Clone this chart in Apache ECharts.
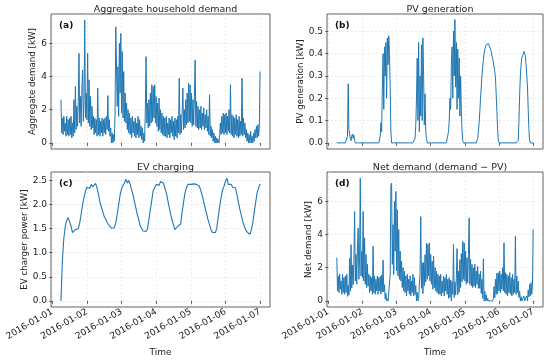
<!DOCTYPE html>
<html><head><meta charset="utf-8">
<script src="https://cdn.jsdelivr.net/npm/echarts@6/dist/echarts.min.js"></script>
<style>html,body{margin:0;padding:0;background:#fff}#c{width:550px;height:360px}</style>
</head><body><div id="c"></div>
<script>
// time axis in days since 2016-01-01 00:00
const xTickValues = [0, 1, 2, 3, 4, 5, 6];
const xTickLabels = ['2016-01-01','2016-01-02','2016-01-03','2016-01-04','2016-01-05','2016-01-06','2016-01-07'];
const seriesStartDay = 0.25;     // 2016-01-01 06:00
const halfHourStep = 1 / 48;
const hourStep = 1 / 24;

const titles = ['Aggregate household demand', 'PV generation', 'EV charging', 'Net demand (demand \u2212 PV)'];
const panelLabels = ['(a)', '(b)', '(c)', '(d)'];
const yNames = ['Aggregate demand [kW]', 'PV generation [kW]', 'EV charger power [kW]', 'Net demand [kW]'];
const yTicksDemand = [0, 2, 4, 6];
const yTicksPV = [0, 0.1, 0.2, 0.3, 0.4, 0.5];
const yTicksEV = [0, 0.5, 1.0, 1.5, 2.0, 2.5];

// half-hourly aggregate demand [kW]
const demand = [
 2.6,0.6,1.5,0.5,1.6,0.7,1.2,0.4,1.6,0.5,1.4,0.4,
 1.5,0.5,1.6,0.3,1.2,0.4,2.6,0.6,3.4,0.8,2.2,1.0,
 2.5,5.4,1.2,2.8,1.0,3.2,4.4,1.3,2.6,7.4,1.5,3.0,
 1.4,5.4,1.2,3.8,1.0,2.8,0.8,2.2,0.9,1.6,0.5,1.5,
 0.6,1.4,0.4,3.3,0.5,1.5,0.4,1.3,0.6,1.5,0.4,1.4,
 0.6,1.5,0.5,1.6,0.8,2.85,0.7,1.4,0.4,0.9,0.0,0.6,
 0.0,0.5,0.1,1.8,7.0,7.1,2.2,4.6,1.6,6.0,3.0,6.6,
 1.8,5.5,1.5,4.3,1.3,3.0,1.2,2.4,0.8,2.0,0.6,1.8,
 0.5,1.5,0.3,1.6,0.6,1.3,0.4,1.5,0.3,1.2,0.5,1.6,
 0.3,1.4,0.4,1.0,0.2,0.9,0.0,0.6,0.1,2.0,5.2,1.2,
 2.4,0.9,2.6,1.0,3.0,1.2,3.5,1.3,3.4,1.5,3.5,1.2,
 2.8,1.0,2.4,0.7,2.7,0.8,2.0,0.6,1.8,0.5,1.6,0.4,
 1.5,0.4,1.6,0.3,1.2,0.5,1.5,0.3,1.4,0.6,1.6,0.4,
 1.3,0.2,1.5,0.4,1.4,0.3,1.6,0.6,3.9,0.5,1.7,0.6,
 1.8,3.3,0.8,2.0,0.9,2.6,1.1,3.0,1.2,3.6,1.3,3.5,
 1.2,3.0,1.0,2.6,1.1,2.8,5.0,1.0,2.5,0.9,2.2,0.8,
 2.0,0.9,2.2,0.8,1.8,1.0,2.1,0.8,1.7,0.9,2.0,0.7,
 1.6,0.5,2.9,0.4,1.0,0.3,0.8,0.1,0.6,0.0,0.4,0.0,
 0.3,0.0,0.2,0.0,0.5,1.2,0.5,1.6,0.6,1.8,0.5,1.7,
 0.6,1.8,0.5,1.6,0.7,2.0,0.6,3.5,0.5,1.7,0.4,1.6,
 0.3,1.5,0.5,1.7,0.4,1.4,0.3,1.6,0.4,1.3,0.5,3.9,
 0.4,1.5,0.5,1.2,0.3,0.8,0.1,0.6,0.0,0.5,0.0,0.7,
 0.0,0.4,0.0,0.6,0.1,0.8,0.3,1.0,0.3,1.1,0.4,1.0,4.3
];

// half-hourly PV generation [kW]
const pv = [
 0,0,0,0,0,0,0,0,0,0,0,0,
 0,0,0,0.03,0.265,0.06,0.04,0.02,0.01,0.03,0.04,0.02,
 0.035,0.01,0,0,0,0,0,0,0,0,0,0,
 0,0,0,0,0,0,0,0,0,0,0,0,
 0,0,0,0,0,0,0,0,0,0,0,0,
 0,0.03,0.09,0.05,0.25,0.4,0.15,0.43,0.3,0.45,0.2,0.47,
 0.35,0.48,0.4,0.25,0.05,0,0,0,0,0,0,0,
 0,0,0,0,0,0,0,0,0,0,0,0,
 0,0,0,0,0,0,0,0,0,0,0,0,
 0,0,0.02,0.08,0.2,0.38,0.1,0.45,0.05,0.3,0.12,0.44,
 0.1,0.47,0.3,0.08,0.22,0.05,0.02,0,0,0,0,0,
 0,0,0,0,0,0,0,0,0,0,0,0,
 0,0,0,0,0,0,0,0,0,0,0,0,
 0,0.05,0.1,0.2,0.15,0.35,0.43,0.2,0.5,0.3,0.553,0.25,
 0.45,0.15,0.42,0.2,0.38,0.12,0.3,0.15,0.05,0.01,0,0,
 0,0,0,0,0,0,0,0,0,0,0,0,
 0,0,0,0,0,0,0.02,0.05,0.09,0.14,0.2,0.25,
 0.3,0.34,0.37,0.4,0.42,0.43,0.44,0.445,0.44,0.445,0.44,0.43,
 0.42,0.41,0.39,0.38,0.36,0.34,0.32,0.29,0.22,0.14,0.06,0.01,
 0,0,0,0,0,0,0,0,0,0,0,0,
 0,0,0,0,0,0,0,0,0,0,0,0,
 0,0,0,0.01,0.1,0.22,0.3,0.35,0.38,0.39,0.40,0.41,
 0.405,0.39,0.35,0.3,0.25,0.15,0.06,0.01,0,0,0,0,0
];

// hourly EV charger power [kW]
const ev = [
 0.0,0.85,1.3,1.55,1.68,1.73,1.7,1.55,1.42,1.45,1.48,1.52,
 1.5,1.62,1.8,2.0,2.15,2.28,2.36,2.4,2.34,2.42,2.37,2.4,
 2.44,2.35,2.22,2.05,1.95,1.85,1.75,1.7,1.63,1.58,1.55,1.51,
 1.49,1.52,1.62,1.8,2.0,2.2,2.33,2.4,2.45,2.53,2.45,2.5,
 2.42,2.3,2.2,2.05,1.92,1.78,1.68,1.55,1.5,1.45,1.47,1.44,
 1.5,1.7,1.9,2.1,2.3,2.35,2.42,2.45,2.4,2.48,2.52,2.45,
 2.35,2.25,2.1,1.95,1.8,1.68,1.58,1.48,1.52,1.55,1.53,1.6,
 1.85,2.05,2.25,2.35,2.42,2.45,2.42,2.46,2.43,2.47,2.42,2.45,
 2.38,2.28,2.18,2.05,1.92,1.8,1.68,1.58,1.48,1.42,1.44,1.42,
 1.5,1.75,1.95,2.15,2.3,2.38,2.48,2.55,2.42,2.38,2.42,2.36,
 2.4,2.35,2.2,2.05,1.9,1.78,1.65,1.56,1.48,1.43,1.46,1.38,
 1.48,1.62,1.85,2.05,2.25,2.35,2.43
];

// half-hourly net demand (demand - PV) [kW]
const netDemand = [
 2.6,0.6,1.5,0.5,1.6,0.7,1.2,0.4,1.6,0.5,1.4,0.4,
 1.5,0.5,1.6,0.27,0.94,0.34,2.56,0.58,3.39,0.77,2.16,0.98,
 2.47,5.39,1.2,2.8,1.0,3.2,4.4,1.3,2.6,7.4,1.5,3.0,
 1.4,5.4,1.2,3.8,1.0,2.8,0.8,2.2,0.9,1.6,0.5,1.5,
 0.6,1.4,0.4,3.3,0.5,1.5,0.4,1.3,0.6,1.5,0.4,1.4,
 0.6,1.47,0.41,1.55,0.55,2.45,0.55,0.97,0.1,0.45,0.0,0.13,
 0.0,0.02,0.0,1.55,6.95,7.1,2.2,4.6,1.6,6.0,3.0,6.6,
 1.8,5.5,1.5,4.3,1.3,3.0,1.2,2.4,0.8,2.0,0.6,1.8,
 0.5,1.5,0.3,1.6,0.6,1.3,0.4,1.5,0.3,1.2,0.5,1.6,
 0.3,1.4,0.38,0.92,0.0,0.52,0.0,0.15,0.05,1.7,5.08,0.76,
 2.3,0.43,2.3,0.92,2.78,1.15,3.48,1.3,3.4,1.5,3.5,1.2,
 2.8,1.0,2.4,0.7,2.7,0.8,2.0,0.6,1.8,0.5,1.6,0.4,
 1.5,0.4,1.6,0.3,1.2,0.5,1.5,0.3,1.4,0.6,1.6,0.4,
 1.3,0.15,1.4,0.2,1.25,0.0,1.17,0.4,3.4,0.2,1.15,0.35,
 1.35,3.15,0.38,1.8,0.52,2.48,0.8,2.85,1.15,3.59,1.3,3.5,
 1.2,3.0,1.0,2.6,1.1,2.8,5.0,1.0,2.5,0.9,2.2,0.8,
 2.0,0.9,2.2,0.8,1.8,1.0,2.08,0.75,1.61,0.76,1.8,0.45,
 1.3,0.16,2.53,0.0,0.58,0.0,0.36,0.0,0.16,0.0,0.0,0.0,
 0.0,0.0,0.0,0.0,0.14,0.86,0.18,1.31,0.38,1.66,0.44,1.69,
 0.6,1.8,0.5,1.6,0.7,2.0,0.6,3.5,0.5,1.7,0.4,1.6,
 0.3,1.5,0.5,1.7,0.4,1.4,0.3,1.6,0.4,1.3,0.5,3.9,
 0.4,1.5,0.5,1.19,0.2,0.58,0.0,0.25,0.0,0.11,0.0,0.29,
 0.0,0.01,0.0,0.3,0.0,0.65,0.24,0.99,0.3,1.1,0.4,1.0,4.3
];

function toXY(arr, step) { return arr.map((v, i) => [seriesStartDay + i * step, v]); }

const FONT = 'DejaVu Sans';
const AX = '#3a3a3a';
const LINE = '#1f77b4';
const grids = [
  {left: 51, top: 14, width: 219, height: 135},
  {left: 327, top: 14, width: 216, height: 135},
  {left: 51, top: 172, width: 219, height: 135},
  {left: 327, top: 172, width: 216, height: 135}
];
const yCfg = [
  {min: -0.37, max: 7.77, ticks: yTicksDemand, fmt: v => String(v), gap: 14},
  {min: -0.0275, max: 0.5775, ticks: yTicksPV, fmt: v => v.toFixed(1), gap: 21},
  {min: -0.1275, max: 2.6775, ticks: yTicksEV, fmt: v => v.toFixed(1), gap: 21},
  {min: -0.37, max: 7.77, ticks: yTicksDemand, fmt: v => String(v), gap: 12}
];
const seriesData = [toXY(demand, halfHourStep), toXY(pv, halfHourStep), toXY(ev, hourStep), toXY(netDemand, halfHourStep)];

const splitStyle = {show: true, lineStyle: {color: '#e6e6e6', width: 0.8, type: [2, 2]}};

const option = {
  animation: false,
  backgroundColor: '#fff',
  textStyle: {fontFamily: FONT},
  title: grids.map((g, k) => ({
    text: titles[k], left: g.left + g.width / 2, top: g.top - 14, textAlign: 'center',
    textStyle: {fontFamily: FONT, fontSize: 9.5, fontWeight: 'normal', color: '#222'}
  })).concat(grids.map((g, k) => ({
    text: panelLabels[k], left: g.left + 3, top: g.top + 2,
    textStyle: {fontFamily: FONT, fontSize: 9, fontWeight: 'bold', color: '#111'}
  }))),
  grid: grids.map(g => Object.assign({show: true, borderColor: AX, borderWidth: 0.8, backgroundColor: 'transparent'}, g)),
  xAxis: grids.map((g, k) => ({
    type: 'value', gridIndex: k, min: -0.0375, max: 6.2875,
    name: k >= 2 ? 'Time' : '', nameLocation: 'middle', nameGap: 41,
    nameTextStyle: {fontFamily: FONT, fontSize: 9, color: '#222'},
    axisLine: {show: false},
    axisTick: {show: true, length: 3, customValues: xTickValues, lineStyle: {color: AX, width: 0.8}},
    axisLabel: {show: k >= 2, customValues: xTickValues, rotate: 30, fontFamily: FONT, fontSize: 9, color: '#222', margin: 4,
      formatter: v => xTickLabels[Math.round(v)]},
    splitLine: splitStyle
  })),
  yAxis: grids.map((g, k) => ({
    type: 'value', gridIndex: k, min: yCfg[k].min, max: yCfg[k].max,
    name: yNames[k], nameLocation: 'middle', nameGap: yCfg[k].gap,
    nameTextStyle: {fontFamily: FONT, fontSize: 8.7, color: '#222'},
    axisLine: {show: false},
    axisTick: {show: true, length: 3, customValues: yCfg[k].ticks, lineStyle: {color: AX, width: 0.8}},
    axisLabel: {customValues: yCfg[k].ticks, fontFamily: FONT, fontSize: 9, color: '#222', margin: 4, formatter: yCfg[k].fmt},
    splitLine: splitStyle
  })),
  series: seriesData.map((d, k) => ({
    type: 'line', xAxisIndex: k, yAxisIndex: k, data: d, showSymbol: false,
    lineStyle: {color: LINE, width: k === 2 ? 1.1 : 1.0}, itemStyle: {color: LINE}
  }))
};
echarts.init(document.getElementById('c'), null, {renderer: 'canvas'}).setOption(option);
</script></body></html>
